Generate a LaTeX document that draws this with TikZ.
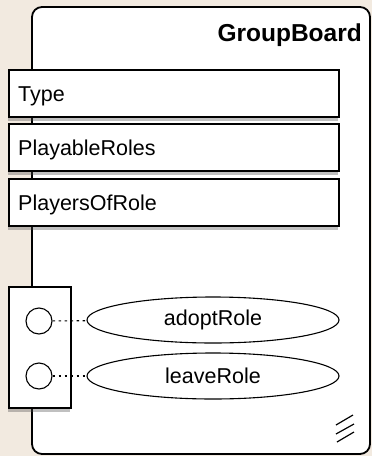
\documentclass[tikz,border=0pt]{standalone}
\usepackage{fontspec}
\setmainfont{Liberation Sans}
\usetikzlibrary{shadows,shapes.geometric}
\definecolor{paper}{RGB}{242,234,224}
\tikzset{
  x=1pt, y=-1pt,
  softshadow/.style={drop shadow={shadow xshift=-1pt, shadow yshift=-4pt, opacity=0.35, fill=black!70}},
  partbox/.style={draw, line width=1.3pt, fill=white, softshadow},
  lbl/.style={font=\fontsize{21.5}{24}\selectfont, anchor=base west, inner sep=0pt},
  port/.style={circle, draw, line width=1.1pt, fill=white, minimum size=26pt, inner sep=0pt},
  opnode/.style={ellipse, draw, line width=1.1pt, fill=white, minimum width=252pt, minimum height=46pt, inner sep=0pt, font=\fontsize{21.5}{24}\selectfont},
  link/.style={line width=1.1pt, dash pattern=on 2.5pt off 3.5pt}
}
\begin{document}
\begin{tikzpicture}
  % canvas
  \fill[paper] (0,0) rectangle (372,456);
  \useasboundingbox (0,0) rectangle (372,456);

  % outer board
  \draw[line width=1.8pt, fill=white, rounded corners=10pt] (32,7) rectangle (370,454);
  \node[font=\bfseries\fontsize{24.5}{28}\selectfont, anchor=base east, inner sep=0pt] (title) at (362,41) {GroupBoard};

  % attribute compartments
  \draw[partbox] (9,70) rectangle (339,117);
  \node[lbl] (type) at (18,101) {Type};
  \draw[partbox] (9,124) rectangle (339,171);
  \node[lbl] (playable) at (18,155) {PlayableRoles};
  \draw[partbox] (9,179) rectangle (339,226);
  \node[lbl] (players) at (18,210) {PlayersOfRole};

  % port panel
  \draw[partbox] (9,287) rectangle (71,408);
  \node[port] (p1) at (39,321) {};
  \node[port] (p2) at (39,376) {};

  % operations
  \node[opnode] (adopt) at (213,320) {adoptRole};
  \node[opnode] (leave) at (213,376) {leaveRole};
  \draw[link] (p1) -- (adopt);
  \draw[link] (p2) -- (leave);

  % resize grip
  \draw[line width=1.2pt] (336,425) -- (353,415);
  \draw[line width=1.2pt] (336,434) -- (354,424);
  \draw[line width=1.2pt] (337,442) -- (354,432);
\end{tikzpicture}
\end{document}
